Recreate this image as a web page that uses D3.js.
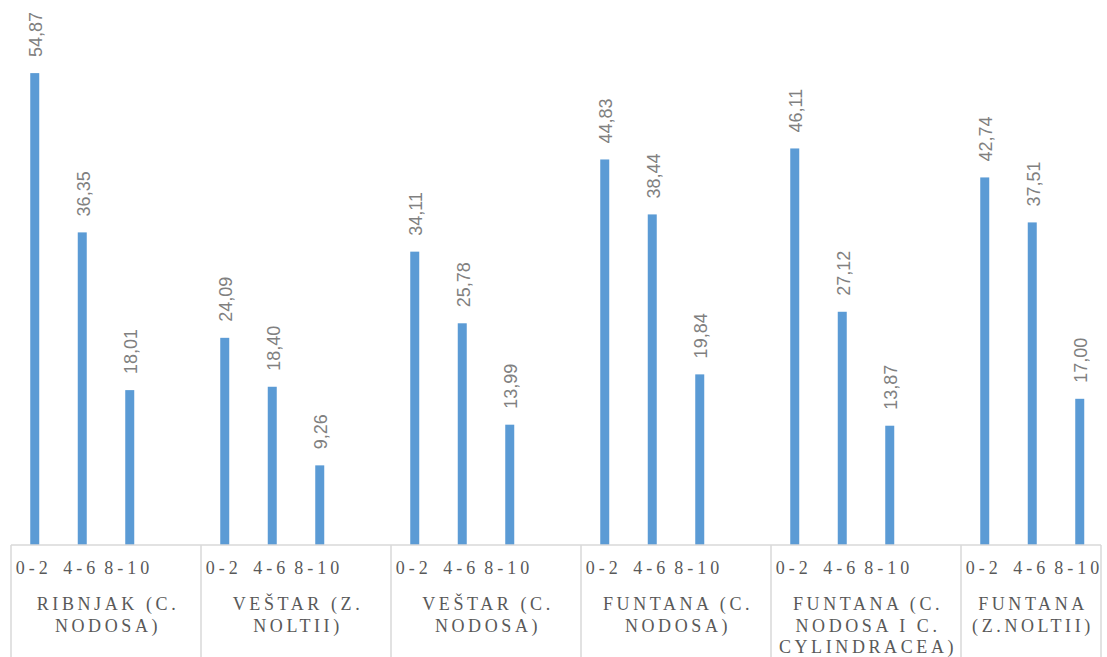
<!DOCTYPE html>
<html>
<head>
<meta charset="utf-8">
<script src="https://cdn.jsdelivr.net/npm/d3@7"></script>
<style>
  body { margin: 0; background: #fff; }
  svg { display: block; }
</style>
</head>
<body>
<svg id="chart"></svg>
<script>
// data
var groups = ["RIBNJAK (C. NODOSA)", "VEŠTAR (Z. NOLTII)", "VEŠTAR (C. NODOSA)",
              "FUNTANA (C. NODOSA)", "FUNTANA (C. NODOSA I C. CYLINDRACEA)", "FUNTANA (Z.NOLTII)"]
var groupLines = [
  ["RIBNJAK (C.", "NODOSA)"],
  ["VEŠTAR (Z.", "NOLTII)"],
  ["VEŠTAR (C.", "NODOSA)"],
  ["FUNTANA (C.", "NODOSA)"],
  ["FUNTANA (C.", "NODOSA I C.", "CYLINDRACEA)"],
  ["FUNTANA", "(Z.NOLTII)"]
]
var depths = ["0-2", "4-6", "8-10"]
var values = [
  [54.87, 36.35, 18.01],
  [24.09, 18.40, 9.26],
  [34.11, 25.78, 13.99],
  [44.83, 38.44, 19.84],
  [46.11, 27.12, 13.87],
  [42.74, 37.51, 17.00]
]

var dimensions = {
  width: 1107,
  height: 657,
  margin: { top: 29, bottom: 112, left: 11, right: 6 }
}
var groupWidth = 190
var rightEdge = dimensions.width - dimensions.margin.right
var axisY = dimensions.height - dimensions.margin.bottom

var svg = d3.select("#chart")
  .attr("width", dimensions.width)
  .attr("height", dimensions.height)

var x0 = d3.scaleBand()
  .domain(groups)
  .range([dimensions.margin.left, dimensions.margin.left + groupWidth * groups.length])

// 3 depth slots take 3/4 of the group, the last quarter stays empty
var x1 = d3.scaleBand()
  .domain(depths)
  .range([0, x0.bandwidth() * 0.75])

var y = d3.scaleLinear()
  .domain([0, 60])
  .range([axisY, dimensions.margin.top])

var barW = 9

var rows = []
groups.forEach(function(g, i) {
  depths.forEach(function(dp, j) {
    rows.push({ group: g, depth: dp, value: values[i][j] })
  })
})

function barCenter(d) {
  return x0(d.group) + x1(d.depth) + x1.bandwidth() / 2
}

// bars
svg.append("g")
  .selectAll("rect")
  .data(rows)
  .join("rect")
  .attr("x", d => barCenter(d) - barW / 2)
  .attr("y", d => y(d.value))
  .attr("width", barW)
  .attr("height", d => y(0) - y(d.value))
  .attr("fill", "#5b9bd5")

// value labels, rotated
svg.append("g")
  .selectAll("text")
  .data(rows)
  .join("text")
  .attr("transform", d => "translate(" + (barCenter(d) + 1) + "," + (y(d.value) - 16) + ") rotate(-90)")
  .attr("dy", "0.35em")
  .attr("text-anchor", "start")
  .style("font-family", "'Liberation Sans', Arial, sans-serif")
  .style("font-size", "18px")
  .style("fill", "#808080")
  .text(d => d.value.toFixed(2).replace(".", ","))

// axis line and group dividers
var axis = svg.append("g")
  .attr("stroke", "#d9d9d9")
  .attr("stroke-width", 1.5)

axis.append("line")
  .attr("x1", dimensions.margin.left)
  .attr("x2", rightEdge)
  .attr("y1", axisY)
  .attr("y2", axisY)

var dividers = groups.map(g => x0(g)).concat([rightEdge])
axis.selectAll("line.div")
  .data(dividers)
  .join("line")
  .attr("class", "div")
  .attr("x1", d => d)
  .attr("x2", d => d)
  .attr("y1", axisY)
  .attr("y2", dimensions.height)

// depth labels under bars
svg.append("g")
  .selectAll("text")
  .data(rows)
  .join("text")
  .attr("x", d => barCenter(d) - 1)
  .attr("y", axisY + 29)
  .attr("text-anchor", "middle")
  .style("font-family", "'Liberation Serif', 'DejaVu Serif', serif")
  .style("font-size", "18px")
  .style("letter-spacing", "4px")
  .style("fill", "#595959")
  .text(d => d.depth)

// group labels, centred in the visible part of each group
var gl = svg.append("g")
  .selectAll("text")
  .data(groups)
  .join("text")
  .attr("text-anchor", "middle")
  .attr("transform", function(g) {
    var a = x0(g), b = Math.min(x0(g) + x0.bandwidth(), rightEdge)
    return "translate(" + ((a + b) / 2 + 2) + "," + (axisY + 65) + ")"
  })
  .style("font-family", "'Liberation Serif', 'DejaVu Serif', serif")
  .style("font-size", "18px")
  .style("letter-spacing", "3.6px")
  .style("fill", "#595959")

gl.selectAll("tspan")
  .data((g, i) => groupLines[i])
  .join("tspan")
  .attr("x", 0)
  .attr("y", (d, i) => i * 21.5)
  .text(d => d)
</script>
</body>
</html>
